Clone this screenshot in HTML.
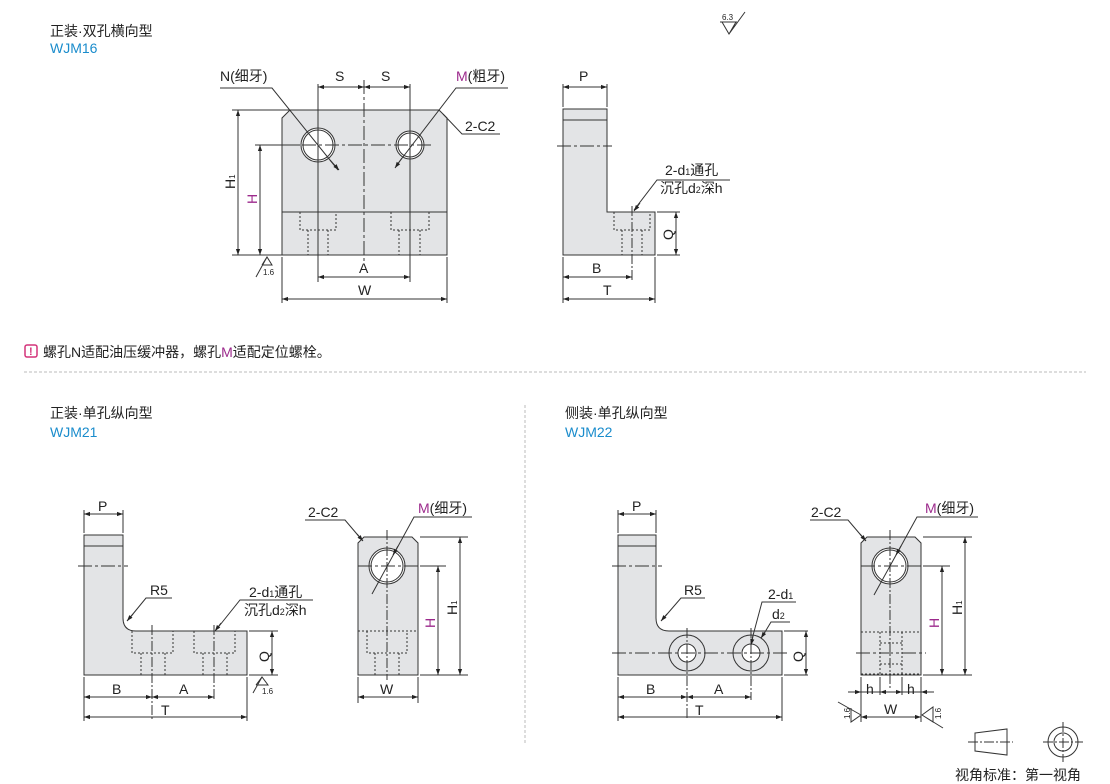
<!DOCTYPE html>
<html><head><meta charset="utf-8"><style>
html,body{margin:0;padding:0;background:#fff;width:1110px;height:784px;overflow:hidden}
svg{display:block}
text{font-family:"Liberation Sans","Noto Sans CJK SC",sans-serif;fill:#222}
.t{font-size:14px}
.b{font-size:14px;fill:#1a8ccc}
.l{font-size:14px}
.p{fill:#9c2a8c}
</style></head><body>
<svg width="1110" height="784" viewBox="0 0 1110 784" xmlns="http://www.w3.org/2000/svg">
<defs>
<marker id="a" viewBox="0 0 10 10" refX="10" refY="5" markerWidth="9" markerHeight="6" orient="auto-start-reverse" markerUnits="userSpaceOnUse"><path d="M0,1.5 L10,5 L0,8.5z" fill="#222"/></marker>
</defs>
<g stroke="#333" stroke-width="1" fill="none">
<!-- ===== WJM16 front ===== -->
<path d="M290,110 H439 L447,118 V255 H282 V118z" fill="#e3e4e6"/>
<line x1="282" y1="212" x2="447" y2="212"/>
<circle cx="318" cy="145" r="17" fill="#fff"/><circle cx="318" cy="145" r="15"/>
<circle cx="410" cy="145" r="14" fill="#fff"/><circle cx="410" cy="145" r="12"/>
<g stroke-dasharray="2,2">
<path d="M300,212 V230 H336 V212 M308,230 V255 M328,230 V255"/>
<path d="M391,212 V230 H429 V212 M399,230 V255 M420,230 V255"/>
</g>
<g stroke-dasharray="14,3,3,3">
<line x1="364" y1="80" x2="364" y2="262"/>
<line x1="256" y1="145" x2="432" y2="145"/>
</g>
<path d="M318,84 V282 M410,84 V282 M282,257 V303 M447,257 V303 M232,110 H290 M255,145 H300 M232,255 H282"/>
<line x1="318" y1="87" x2="364" y2="87" marker-start="url(#a)" marker-end="url(#a)"/>
<line x1="364" y1="87" x2="410" y2="87" marker-start="url(#a)" marker-end="url(#a)"/>
<line x1="318" y1="277" x2="410" y2="277" marker-start="url(#a)" marker-end="url(#a)"/>
<line x1="282" y1="299" x2="447" y2="299" marker-start="url(#a)" marker-end="url(#a)"/>
<line x1="238" y1="110" x2="238" y2="255" marker-start="url(#a)" marker-end="url(#a)"/>
<line x1="260" y1="145" x2="260" y2="255" marker-start="url(#a)" marker-end="url(#a)"/>
<path d="M220,88 H272 L338,170" /><line x1="330" y1="160" x2="339" y2="170" marker-end="url(#a)"/>
<path d="M508,88 H456 L396,166"/><line x1="402" y1="158" x2="395" y2="168" marker-end="url(#a)"/>
<path d="M500,134 H462 L443,114"/>
<path d="M262,265 L267,257 L272,265 H262 M256,277 L267,257"/>
<!-- ===== WJM16 side ===== -->
<path d="M563,109 H607 V212 H655 V255 H563z" fill="#e3e4e6"/>
<line x1="563" y1="120" x2="607" y2="120"/>
<g stroke-dasharray="2,2"><path d="M614,212 V230 H650 V212 M622,230 V255 M642,230 V255"/></g>
<line x1="632" y1="206" x2="632" y2="282" stroke-dasharray="10,2,2,2"/>
<line x1="557" y1="146" x2="612" y2="146" stroke-dasharray="14,3,3,3"/>
<path d="M563,84 V107 M607,84 V107 M563,257 V303 M655,257 V303 M657,212 H680 M657,255 H680"/>
<line x1="563" y1="87" x2="607" y2="87" marker-start="url(#a)" marker-end="url(#a)"/>
<line x1="563" y1="277" x2="632" y2="277" marker-start="url(#a)" marker-end="url(#a)"/>
<line x1="563" y1="299" x2="655" y2="299" marker-start="url(#a)" marker-end="url(#a)"/>
<line x1="676" y1="212" x2="676" y2="255" marker-start="url(#a)" marker-end="url(#a)"/>
<path d="M730,180 H657 L634,210"/><line x1="640" y1="203" x2="634" y2="211" marker-end="url(#a)"/>
<!-- top roughness -->
<path d="M722,22 L729,34 L736,22 M729,34 L745,12"/>
<path d="M720,22 H737"/>
<!-- note icon & separators -->
<rect x="25" y="345" width="12" height="12" rx="2" stroke="#d4337a" stroke-width="1.5"/>
<line x1="24" y1="372" x2="1086" y2="372" stroke="#bbb" stroke-dasharray="3,2"/>
<line x1="525" y1="405" x2="525" y2="745" stroke="#bbb" stroke-dasharray="3,2"/>
<!-- ===== WJM21 L ===== -->
<path d="M84,535 H123 V618 Q123,631 136,631 H247 V675 H84z" fill="#e3e4e6"/>
<line x1="84" y1="546" x2="123" y2="546"/>
<g stroke-dasharray="2,2">
<path d="M132,631 V653 H173 V631 M141,653 V675 M165,653 V675"/>
<path d="M194,631 V653 H235 V631 M203,653 V675 M227,653 V675"/>
</g>
<path d="M152,625 V720 M214,625 V700" stroke-dasharray="10,2,2,2"/>
<line x1="78" y1="566" x2="128" y2="566" stroke-dasharray="14,3,3,3"/>
<path d="M84,510 V533 M123,510 V533 M84,677 V721 M247,677 V721 M249,631 H278 M249,675 H278"/>
<line x1="84" y1="514" x2="123" y2="514" marker-start="url(#a)" marker-end="url(#a)"/>
<line x1="84" y1="697" x2="152" y2="697" marker-start="url(#a)" marker-end="url(#a)"/>
<line x1="152" y1="697" x2="214" y2="697" marker-start="url(#a)" marker-end="url(#a)"/>
<line x1="84" y1="717" x2="247" y2="717" marker-start="url(#a)" marker-end="url(#a)"/>
<line x1="272" y1="631" x2="272" y2="675" marker-start="url(#a)" marker-end="url(#a)"/>
<path d="M172,598 H146 L128,620"/><line x1="133" y1="614" x2="127" y2="621" marker-end="url(#a)"/>
<path d="M313,600 H240 L216,630"/><line x1="221" y1="623" x2="215" y2="631" marker-end="url(#a)"/>
<path d="M256,685 L262,677 L268,685 H256 M253,693 L262,677"/>
<!-- ===== WJM21 right ===== -->
<path d="M364,537 H412 L418,543 V675 H358 V543z" fill="#e3e4e6"/>
<circle cx="387" cy="566" r="18" fill="#fff"/><circle cx="387" cy="566" r="16"/>
<line x1="358" y1="631" x2="418" y2="631" stroke-dasharray="2,2"/>
<path d="M367,631 V653 H407 V631 M375,653 V675 M399,653 V675" stroke-dasharray="2,2"/>
<line x1="387" y1="530" x2="387" y2="680" stroke-dasharray="10,2,2,2"/>
<line x1="358" y1="566" x2="420" y2="566" stroke-dasharray="14,3,3,3"/>
<path d="M420,537 H468 M420,566 H446 M420,675 H468 M358,677 V703 M418,677 V703"/>
<line x1="438" y1="566" x2="438" y2="675" marker-start="url(#a)" marker-end="url(#a)"/>
<line x1="460" y1="537" x2="460" y2="675" marker-start="url(#a)" marker-end="url(#a)"/>
<line x1="358" y1="697" x2="418" y2="697" marker-start="url(#a)" marker-end="url(#a)"/>
<path d="M305,520 H345 L362,540"/><line x1="357" y1="534" x2="363" y2="541" marker-end="url(#a)"/>
<path d="M472,517 H414 L372,594"/><line x1="398" y1="546" x2="393" y2="555" marker-end="url(#a)"/>
<!-- ===== WJM22 L ===== -->
<path d="M618,535 H656 V618 Q656,631 669,631 H782 V675 H618z" fill="#e3e4e6"/>
<line x1="618" y1="546" x2="656" y2="546"/>
<circle cx="687" cy="653" r="18"/><circle cx="687" cy="653" r="9" fill="#fff"/>
<circle cx="751" cy="653" r="18"/><circle cx="751" cy="653" r="9" fill="#fff"/>
<line x1="612" y1="653" x2="790" y2="653" stroke-dasharray="14,3,3,3"/>
<path d="M687,628 V720 M751,628 V700" stroke-dasharray="10,2,2,2"/>
<line x1="612" y1="566" x2="662" y2="566" stroke-dasharray="14,3,3,3"/>
<path d="M618,510 V533 M656,510 V533 M618,677 V721 M782,677 V721 M784,631 H808 M784,675 H808"/>
<line x1="618" y1="514" x2="656" y2="514" marker-start="url(#a)" marker-end="url(#a)"/>
<line x1="618" y1="697" x2="687" y2="697" marker-start="url(#a)" marker-end="url(#a)"/>
<line x1="687" y1="697" x2="751" y2="697" marker-start="url(#a)" marker-end="url(#a)"/>
<line x1="618" y1="717" x2="782" y2="717" marker-start="url(#a)" marker-end="url(#a)"/>
<line x1="806" y1="631" x2="806" y2="675" marker-start="url(#a)" marker-end="url(#a)"/>
<path d="M705,598 H681 L662,620"/><line x1="667" y1="614" x2="661" y2="621" marker-end="url(#a)"/>
<path d="M796,602 H762 L751,643"/><line x1="753" y1="636" x2="751" y2="645" marker-end="url(#a)"/>
<path d="M790,622 H771 L762,637"/><line x1="765" y1="632" x2="761" y2="638" marker-end="url(#a)"/>
<!-- ===== WJM22 right ===== -->
<path d="M867,537 H915 L921,543 V675 H861 V543z" fill="#e3e4e6"/>
<circle cx="890" cy="566" r="18" fill="#fff"/><circle cx="890" cy="566" r="16"/>
<g stroke-dasharray="2,2">
<line x1="861" y1="632" x2="921" y2="632"/><line x1="861" y1="674" x2="921" y2="674"/>
<path d="M880,632 V675 M902,632 V675 M880,643 H902 M880,664 H902"/>
</g>
<line x1="890" y1="530" x2="890" y2="690" stroke-dasharray="10,2,2,2"/>
<line x1="861" y1="566" x2="924" y2="566" stroke-dasharray="14,3,3,3"/>
<line x1="856" y1="653" x2="926" y2="653" stroke-dasharray="14,3,3,3"/>
<path d="M923,537 H972 M923,566 H950 M923,675 H972 M861,677 V722 M921,677 V722 M880,677 V695 M902,677 V695"/>
<line x1="942" y1="566" x2="942" y2="675" marker-start="url(#a)" marker-end="url(#a)"/>
<line x1="965" y1="537" x2="965" y2="675" marker-start="url(#a)" marker-end="url(#a)"/>
<line x1="848" y1="692" x2="861" y2="692" marker-end="url(#a)"/><line x1="861" y1="692" x2="880" y2="692"/>
<line x1="880" y1="692" x2="902" y2="692" marker-start="url(#a)" marker-end="url(#a)"/>
<line x1="934" y1="692" x2="921" y2="692" marker-end="url(#a)"/><line x1="902" y1="692" x2="921" y2="692"/>
<line x1="861" y1="717" x2="921" y2="717" marker-start="url(#a)" marker-end="url(#a)"/>
<path d="M838,702 L861,715 L851,722 V708 M922,715 L933,707 V722z M922,715 L943,728"/>
<path d="M810,520 H848 L865,540"/><line x1="860" y1="534" x2="866" y2="541" marker-end="url(#a)"/>
<path d="M978,517 H917 L874,595"/><line x1="901" y1="546" x2="896" y2="555" marker-end="url(#a)"/>
<!-- projection symbol -->
<path d="M975,733 L1007,729 V755 L975,751z"/>
<line x1="968" y1="742" x2="1013" y2="742" stroke-dasharray="10,2,2,2"/>
<circle cx="1063" cy="742" r="15"/><circle cx="1063" cy="742" r="9"/>
<path d="M1043,742 H1083 M1063,722 V762" stroke-dasharray="10,2,2,2"/>
</g>
<!-- ===== Text ===== -->
<text class="t" x="50" y="36">正装·双孔横向型</text>
<text class="b" x="50" y="53">WJM16</text>
<text class="l" x="220" y="81">N(细牙)</text>
<text class="l" x="335" y="81">S</text>
<text class="l" x="381" y="81">S</text>
<text class="l" x="456" y="81"><tspan class="p">M</tspan>(粗牙)</text>
<text class="l" x="465" y="131">2-C2</text>
<text class="l" x="359" y="273">A</text>
<text class="l" x="358" y="295">W</text>
<text class="l" transform="translate(235,189) rotate(-90)">H<tspan font-size="8">1</tspan></text>
<text class="l p" transform="translate(257,204) rotate(-90)">H</text>
<text x="263" y="275" font-size="8">1.6</text>
<text x="722" y="20" font-size="8">6.3</text>
<text class="l" x="579" y="81">P</text>
<text class="l" x="592" y="273">B</text>
<text class="l" x="603" y="295">T</text>
<text class="l" transform="translate(673,240) rotate(-90)">Q</text>
<text class="l" x="665" y="175">2-d<tspan font-size="9">1</tspan>通孔</text>
<text class="l" x="660" y="193">沉孔d<tspan font-size="9">2</tspan>深h</text>
<text x="29" y="355" font-size="11" font-weight="bold" fill="#d4337a" style="fill:#d4337a">!</text>
<text class="l" x="43" y="357">螺孔N适配油压缓冲器，螺孔<tspan class="p">M</tspan>适配定位螺栓。</text>
<text class="t" x="50" y="418">正装·单孔纵向型</text>
<text class="b" x="50" y="437">WJM21</text>
<text class="l" x="98" y="511">P</text>
<text class="l" x="150" y="595">R5</text>
<text class="l" x="249" y="597">2-d<tspan font-size="9">1</tspan>通孔</text>
<text class="l" x="244" y="615">沉孔d<tspan font-size="9">2</tspan>深h</text>
<text class="l" x="112" y="694">B</text>
<text class="l" x="179" y="694">A</text>
<text class="l" x="161" y="715">T</text>
<text class="l" transform="translate(269,662) rotate(-90)">Q</text>
<text x="262" y="694" font-size="8">1.6</text>
<text class="l" x="308" y="517">2-C2</text>
<text class="l" x="418" y="513"><tspan class="p">M</tspan>(细牙)</text>
<text class="l p" transform="translate(435,628) rotate(-90)">H</text>
<text class="l" transform="translate(457,615) rotate(-90)">H<tspan font-size="8">1</tspan></text>
<text class="l" x="380" y="694">W</text>
<text class="t" x="565" y="418">侧装·单孔纵向型</text>
<text class="b" x="565" y="437">WJM22</text>
<text class="l" x="632" y="511">P</text>
<text class="l" x="684" y="595">R5</text>
<text class="l" x="768" y="599">2-d<tspan font-size="9">1</tspan></text>
<text class="l" x="772" y="619">d<tspan font-size="9">2</tspan></text>
<text class="l" x="646" y="694">B</text>
<text class="l" x="714" y="694">A</text>
<text class="l" x="695" y="715">T</text>
<text class="l" transform="translate(803,662) rotate(-90)">Q</text>
<text class="l" x="811" y="517">2-C2</text>
<text class="l" x="925" y="513"><tspan class="p">M</tspan>(细牙)</text>
<text class="l p" transform="translate(939,628) rotate(-90)">H</text>
<text class="l" transform="translate(962,615) rotate(-90)">H<tspan font-size="8">1</tspan></text>
<text class="l" x="866" y="694">h</text>
<text class="l" x="907" y="694">h</text>
<text class="l" x="884" y="714">W</text>
<text font-size="8" transform="translate(850,719) rotate(-90)">1.6</text>
<text font-size="8" transform="translate(941,719) rotate(-90)">1.6</text>
<text class="l" x="955" y="780">视角标准：第一视角</text>
</svg>
</body></html>
